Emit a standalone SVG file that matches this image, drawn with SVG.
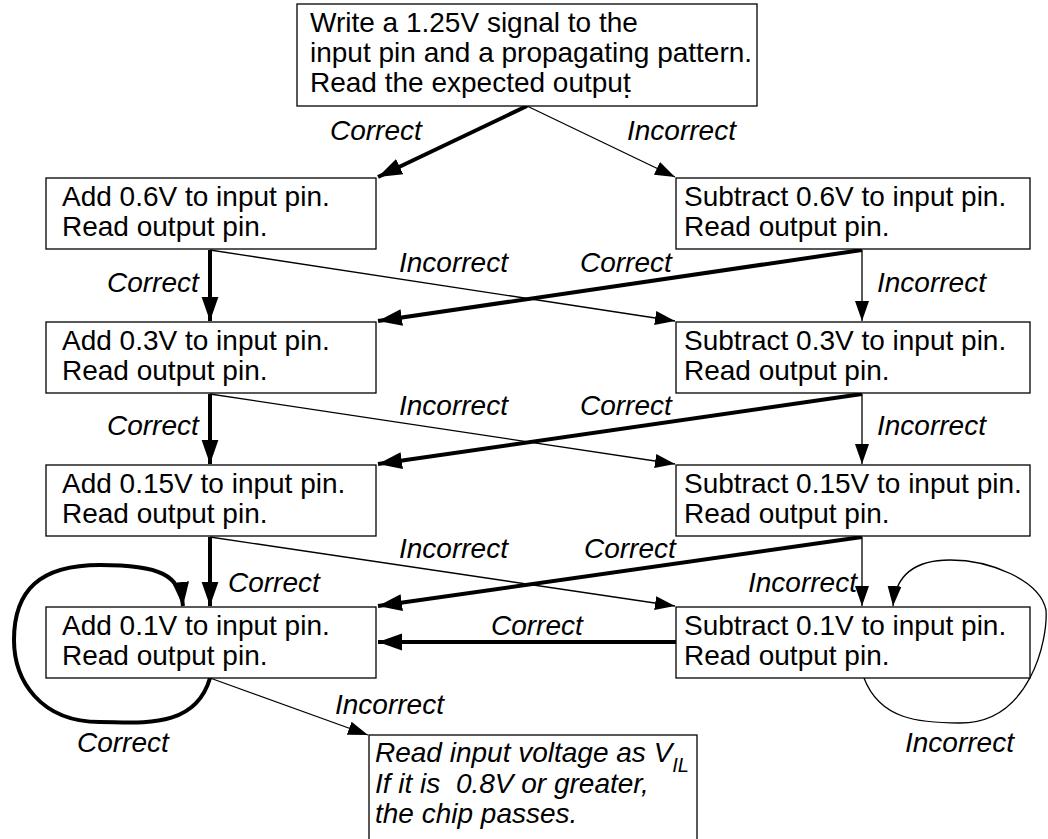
<svg xmlns="http://www.w3.org/2000/svg" width="1048" height="839" viewBox="0 0 1048 839">
<defs>
<style>
.box{fill:#fff;stroke:#000;stroke-width:1.3}
.t{font-family:"Liberation Sans",Arial,sans-serif;font-size:28px;fill:#000}
.l{font-family:"Liberation Sans",Arial,sans-serif;font-size:28px;font-style:italic;fill:#000;white-space:pre}
.thin{fill:none;stroke:#000;stroke-width:1.3}
.thick{fill:none;stroke:#000;stroke-width:4}
</style>
<marker id="ah" viewBox="0 0 10 10" refX="10" refY="5" markerWidth="20" markerHeight="20" markerUnits="userSpaceOnUse" orient="auto"><path d="M0,1.5 L10,5 L0,8.5 Z" fill="#000"/></marker>
<marker id="ahk" viewBox="0 0 10 10" refX="10" refY="5" markerWidth="6" markerHeight="6" markerUnits="strokeWidth" orient="auto"><path d="M0,1.5 L10,5 L0,8.5 Z" fill="#000"/></marker>
</defs>
<rect width="1048" height="839" fill="#fff"/>
<g id="connectors">
<line class="thick" x1="527" y1="106" x2="378" y2="177" marker-end="url(#ahk)"/>
<line class="thin" x1="527" y1="106" x2="675" y2="177" marker-end="url(#ah)"/>
<line class="thick" x1="210" y1="250" x2="210" y2="321" marker-end="url(#ahk)"/>
<line class="thin" x1="210" y1="250" x2="675" y2="321" marker-end="url(#ah)"/>
<line class="thick" x1="862" y1="250" x2="378" y2="321" marker-end="url(#ahk)"/>
<line class="thin" x1="862" y1="250" x2="862" y2="321" marker-end="url(#ah)"/>
<line class="thick" x1="210" y1="394" x2="210" y2="464" marker-end="url(#ahk)"/>
<line class="thin" x1="210" y1="394" x2="675" y2="464" marker-end="url(#ah)"/>
<line class="thick" x1="862" y1="394" x2="378" y2="464" marker-end="url(#ahk)"/>
<line class="thin" x1="862" y1="394" x2="862" y2="464" marker-end="url(#ah)"/>
<line class="thick" x1="210" y1="537" x2="210" y2="606" marker-end="url(#ahk)"/>
<line class="thin" x1="210" y1="537" x2="675" y2="606" marker-end="url(#ah)"/>
<line class="thick" x1="862" y1="537" x2="378" y2="606" marker-end="url(#ahk)"/>
<line class="thin" x1="862" y1="537" x2="862" y2="606" marker-end="url(#ah)"/>
<line class="thick" x1="676" y1="642" x2="378" y2="642" marker-end="url(#ahk)"/>
<path class="thick" d="M210,678 C195,730 140,722 100,722 C40,722 14,680 14,640 C14,590 40,565 100,565 C160,565 180,575 183,606" marker-end="url(#ahk)"/>
<path class="thin" d="M864,678 C880,720 920,723 960,723 C1030,723 1048,640 1046,610 C1040,580 990,560 950,560 C910,560 895,580 893,606" marker-end="url(#ah)"/>
<line class="thin" x1="210" y1="678" x2="368" y2="735" marker-end="url(#ah)"/>
</g>
<g id="labels">
<text class="l" x="330" y="140">Correct</text>
<text class="l" x="627" y="140">Incorrect</text>
<text class="l" x="107" y="292">Correct</text>
<text class="l" x="399" y="272">Incorrect</text>
<text class="l" x="580" y="272">Correct</text>
<text class="l" x="877" y="292">Incorrect</text>
<text class="l" x="107" y="435">Correct</text>
<text class="l" x="399" y="415">Incorrect</text>
<text class="l" x="580" y="415">Correct</text>
<text class="l" x="877" y="435">Incorrect</text>
<text class="l" x="399" y="558">Incorrect</text>
<text class="l" x="584" y="558">Correct</text>
<text class="l" x="228" y="592">Correct</text>
<text class="l" x="748" y="592">Incorrect</text>
<text class="l" x="491" y="635">Correct</text>
<text class="l" x="335" y="714">Incorrect</text>
<text class="l" x="77" y="752">Correct</text>
<text class="l" x="905" y="752">Incorrect</text>
</g>
<g id="start">
<rect class="box" x="297" y="4" width="460" height="102"/>
<text class="t" x="310" y="32">Write a 1.25V signal to the</text>
<text class="t" x="310" y="62">input pin and a propagating pattern.</text>
<text class="t" x="310" y="92">Read the expected output<tspan dx="-8" dy="6">.</tspan></text>
</g>
<g id="add06"><rect class="box" x="46" y="178" width="330" height="71"/><text class="t" x="62" y="206">Add 0.6V to input pin.</text><text class="t" x="62" y="236">Read output pin.</text></g>
<g id="sub06"><rect class="box" x="676" y="178" width="354" height="71"/><text class="t" x="684" y="206">Subtract 0.6V to input pin.</text><text class="t" x="684" y="236">Read output pin.</text></g>
<g id="add03"><rect class="box" x="46" y="322" width="330" height="71"/><text class="t" x="62" y="350">Add 0.3V to input pin.</text><text class="t" x="62" y="380">Read output pin.</text></g>
<g id="sub03"><rect class="box" x="676" y="322" width="354" height="71"/><text class="t" x="684" y="350">Subtract 0.3V to input pin.</text><text class="t" x="684" y="380">Read output pin.</text></g>
<g id="add015"><rect class="box" x="46" y="465" width="330" height="71"/><text class="t" x="62" y="493">Add 0.15V to input pin.</text><text class="t" x="62" y="523">Read output pin.</text></g>
<g id="sub015"><rect class="box" x="676" y="465" width="354" height="71"/><text class="t" x="684" y="493">Subtract 0.15V to input pin.</text><text class="t" x="684" y="523">Read output pin.</text></g>
<g id="add01"><rect class="box" x="46" y="607" width="330" height="71"/><text class="t" x="62" y="635">Add 0.1V to input pin.</text><text class="t" x="62" y="665">Read output pin.</text></g>
<g id="sub01"><rect class="box" x="676" y="607" width="354" height="71"/><text class="t" x="684" y="635">Subtract 0.1V to input pin.</text><text class="t" x="684" y="665">Read output pin.</text></g>
<g id="result">
<rect class="box" x="369" y="735" width="328" height="110"/>
<text class="l" x="375" y="762">Read input voltage as V<tspan font-size="20" dy="10">IL</tspan></text>
<text class="l" x="375" y="793">If it is  0.8V or greater,</text>
<text class="l" x="375" y="823">the chip passes.</text>
</g>
</svg>
